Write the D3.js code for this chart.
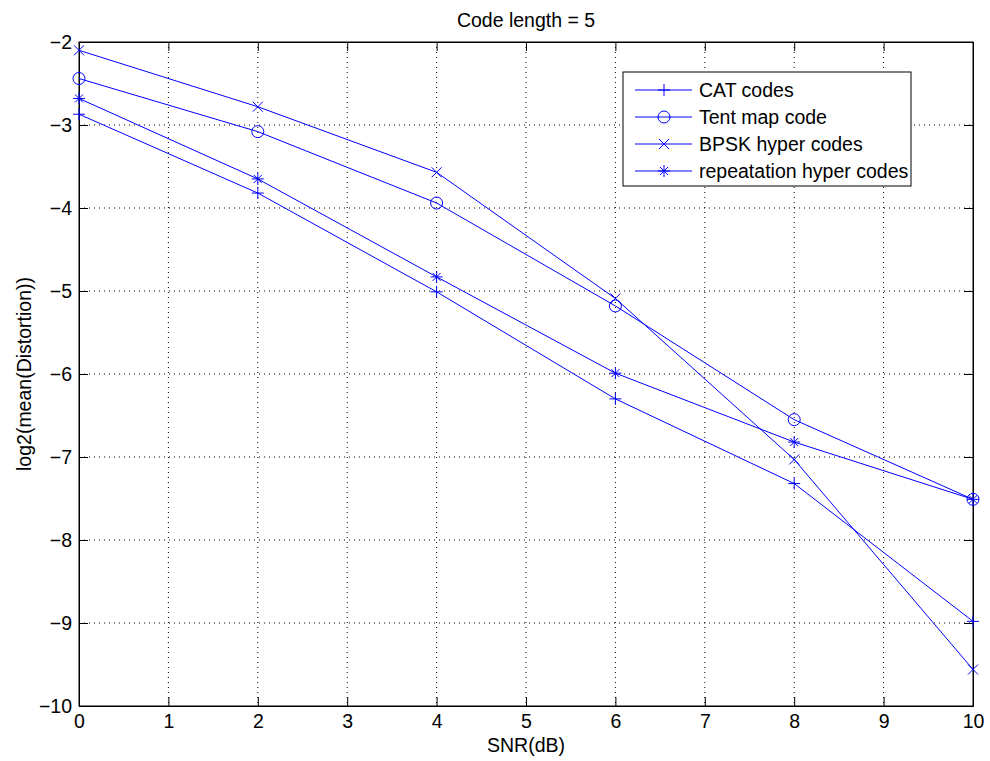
<!DOCTYPE html>
<html>
<head>
<meta charset="utf-8">
<script src="https://cdn.jsdelivr.net/npm/d3@7"></script>
<style>
  body { margin: 0; background: #fff; }
  text { font-family: "Liberation Sans", Arial, sans-serif; }
</style>
</head>
<body>
<script>
const snr = [0, 2, 4, 6, 8, 10]
const catCodes = [-2.87, -3.82, -5.01, -6.30, -7.32, -8.98]
const tentMap = [-2.44, -3.08, -3.94, -5.18, -6.55, -7.51]
const bpskHyper = [-2.10, -2.78, -3.57, -5.09, -7.03, -9.56]
const repHyper = [-2.68, -3.65, -4.83, -5.99, -6.82, -7.51]
const seriesNames = ['CAT codes', 'Tent map code', 'BPSK hyper codes', 'repeatation hyper codes']
const markers = ['plus', 'circle', 'cross', 'star']
const xTicks = [0, 1, 2, 3, 4, 5, 6, 7, 8, 9, 10]
const yTicks = [-10, -9, -8, -7, -6, -5, -4, -3, -2]

const W = 990, H = 761
const margin = {top: 42, right: 17, bottom: 55, left: 79}
const width = W - margin.left - margin.right
const height = H - margin.top - margin.bottom
const blue = '#0000ff'
const fs = '19.5px'

const svg = d3.select('body').append('svg')
    .attr('width', W)
    .attr('height', H)

const g = svg.append('g')
    .attr('transform', 'translate(' + margin.left + ',' + margin.top + ')')

const xScale = d3.scaleLinear().domain([0, 10]).range([0, width])
const yScale = d3.scaleLinear().domain([-10, -2]).range([height, 0])

// grid
g.selectAll('.vgrid').data(xTicks.slice(1, -1)).enter().append('line')
    .attr('x1', d => xScale(d)).attr('x2', d => xScale(d))
    .attr('y1', 0).attr('y2', height)
    .attr('stroke', '#000').attr('stroke-width', 1).attr('stroke-dasharray', '1,4')
g.selectAll('.hgrid').data(yTicks.slice(1, -1)).enter().append('line')
    .attr('y1', d => yScale(d)).attr('y2', d => yScale(d))
    .attr('x1', 0).attr('x2', width)
    .attr('stroke', '#000').attr('stroke-width', 1).attr('stroke-dasharray', '1,4')

// axes, ticks inside like matlab
const tickLen = 9
g.append('g').attr('transform', 'translate(0,' + height + ')')
    .call(d3.axisBottom(xScale).tickValues(xTicks).tickSizeInner(-tickLen).tickSizeOuter(0).tickPadding(8))
g.append('g')
    .call(d3.axisTop(xScale).tickValues(xTicks).tickSizeInner(-tickLen).tickSizeOuter(0).tickFormat(''))
g.append('g')
    .call(d3.axisLeft(yScale).tickValues(yTicks).tickSizeInner(-tickLen).tickSizeOuter(0).tickPadding(7)
      .tickFormat(d => d < 0 ? '\u2212' + Math.abs(d) : d))
g.append('g').attr('transform', 'translate(' + width + ',0)')
    .call(d3.axisRight(yScale).tickValues(yTicks).tickSizeInner(-tickLen).tickSizeOuter(0).tickFormat(''))
g.selectAll('.domain').attr('stroke', '#000')
g.selectAll('.tick line').attr('stroke', '#000')
g.selectAll('.tick text').attr('font-size', fs).attr('fill', '#000')
  .attr('font-family', '"Liberation Sans", Arial, sans-serif')

g.append('rect').attr('width', width).attr('height', height)
    .attr('fill', 'none').attr('stroke', '#000').attr('stroke-width', 1)

function drawMarker(sel, type) {
  if (type === 'circle') {
    sel.append('circle').attr('r', 6).attr('fill', 'none').attr('stroke', blue)
  } else if (type === 'plus') {
    sel.append('path').attr('d', 'M-6,0H6M0,-6V6').attr('stroke', blue)
  } else if (type === 'cross') {
    sel.append('path').attr('d', 'M-5,-5L5,5M-5,5L5,-5').attr('stroke', blue)
  } else {
    sel.append('path').attr('d', 'M-6,0H6M0,-6V6M-4,-4L4,4M-4,4L4,-4').attr('stroke', blue)
  }
}

const allSeries = [catCodes, tentMap, bpskHyper, repHyper]
const line = d3.line()
    .x((d, i) => xScale(snr[i]))
    .y(d => yScale(d))

allSeries.forEach((vals, k) => {
  g.append('path').datum(vals)
      .attr('d', line)
      .attr('fill', 'none').attr('stroke', blue).attr('stroke-width', 1)
  vals.forEach((v, i) => {
    const m = g.append('g').attr('transform', 'translate(' + xScale(snr[i]) + ',' + yScale(v) + ')')
    drawMarker(m, markers[k])
  })
})

// legend
const lg = svg.append('g').attr('transform', 'translate(623,72)')
lg.append('rect').attr('width', 288).attr('height', 114)
    .attr('fill', '#fff').attr('stroke', '#000').attr('stroke-width', 1)
seriesNames.forEach((name, k) => {
  const yy = 18 + k * 27
  lg.append('line').attr('x1', 12).attr('x2', 69).attr('y1', yy).attr('y2', yy)
      .attr('stroke', blue).attr('stroke-width', 1)
  const m = lg.append('g').attr('transform', 'translate(41,' + yy + ')')
  drawMarker(m, markers[k])
  lg.append('text').attr('x', 76).attr('y', yy).attr('dy', '0.35em')
      .attr('font-size', fs).attr('fill', '#000').text(name)
})

// labels
svg.append('text')
    .attr('x', margin.left + width / 2).attr('y', 27)
    .attr('text-anchor', 'middle').attr('font-size', fs)
    .text('Code length = 5')
svg.append('text')
    .attr('x', margin.left + width / 2).attr('y', 752)
    .attr('text-anchor', 'middle').attr('font-size', fs)
    .text('SNR(dB)')
svg.append('text')
    .attr('transform', 'translate(31,' + (margin.top + height / 2) + ') rotate(-90)')
    .attr('text-anchor', 'middle').attr('font-size', fs)
    .text('log2(mean(Distortion))')
</script>
</body>
</html>
